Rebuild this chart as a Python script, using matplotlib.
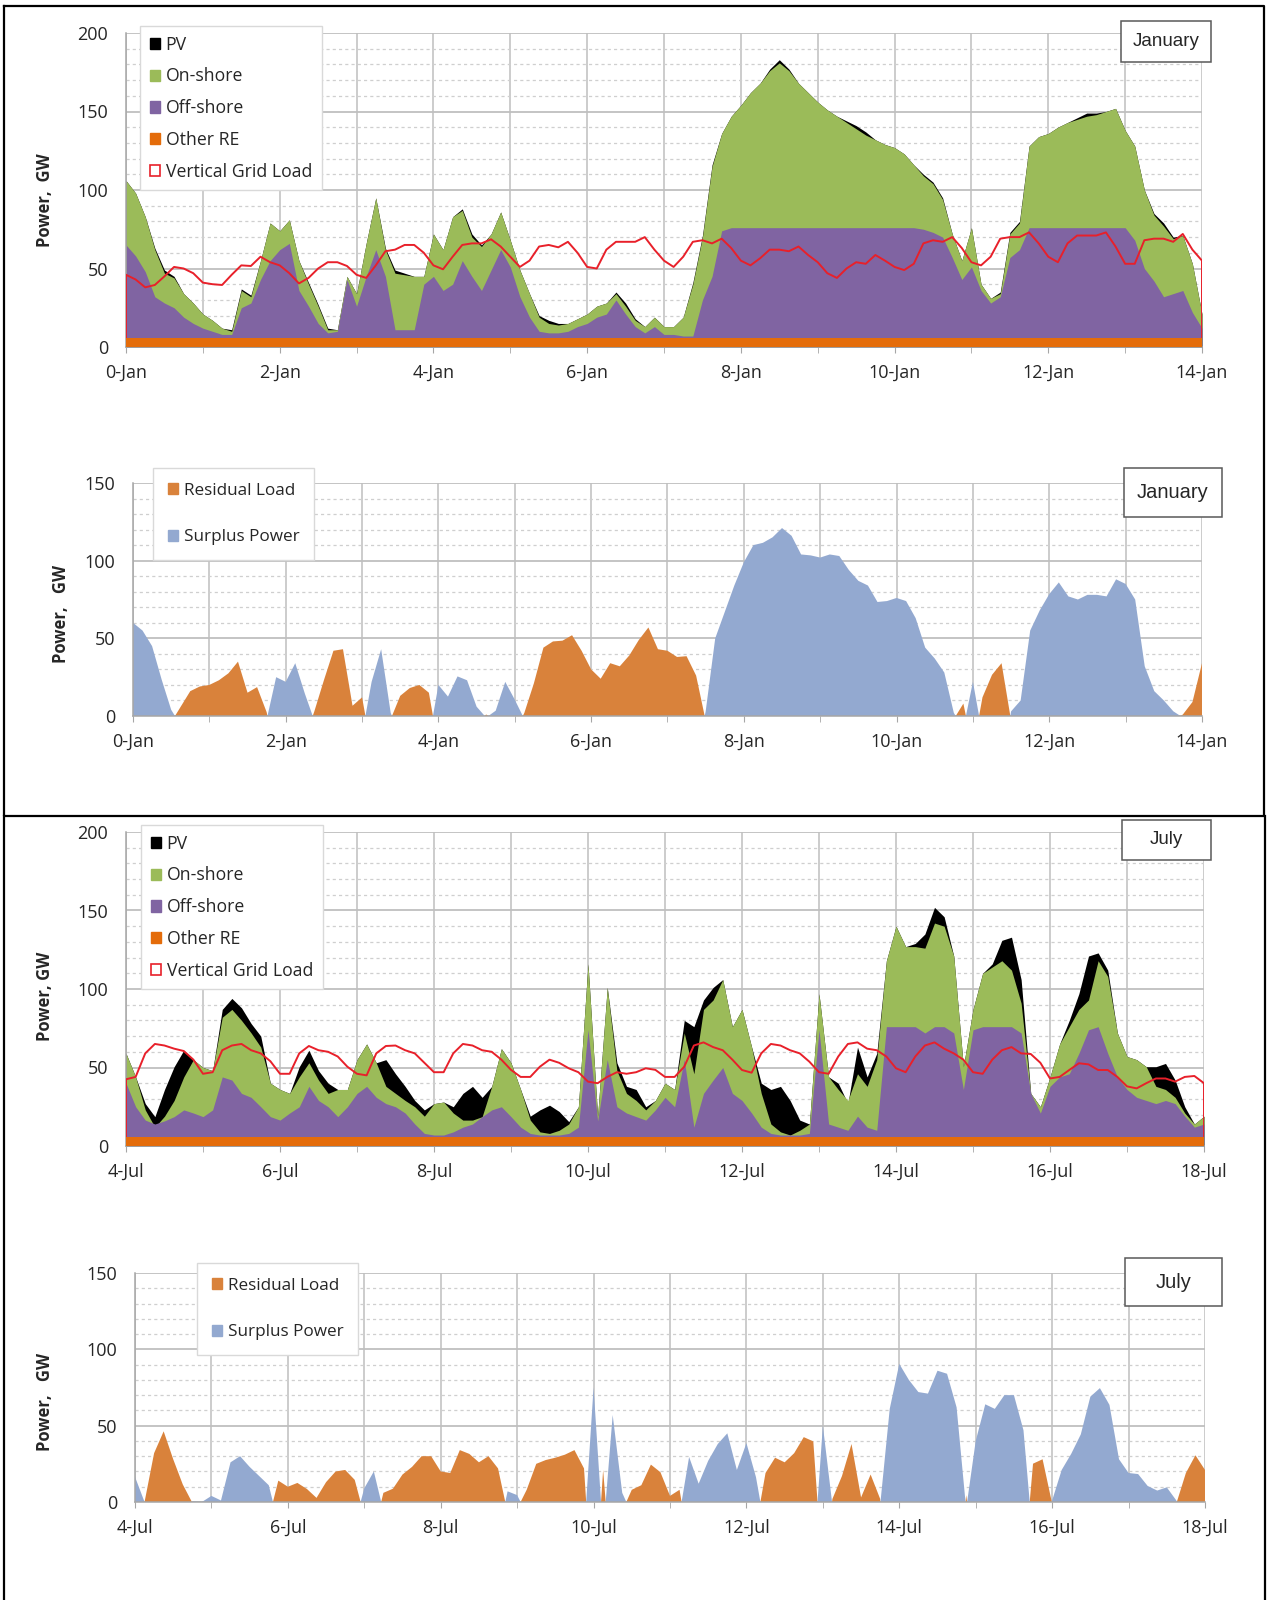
import numpy as np
import matplotlib
matplotlib.use("Agg")
import matplotlib.pyplot as plt
from matplotlib.patches import Patch, Rectangle
from matplotlib.lines import Line2D

plt.rcParams['font.family'] = ['Open Sans', 'DejaVu Sans']

# ---- data: 3-hourly samples over 14 days, values in GW ----
STEPS_PER_DAY = 8
OTHER_RE = 6.0

jan_ticklabels = ['0-Jan', '2-Jan', '4-Jan', '6-Jan', '8-Jan', '10-Jan', '12-Jan', '14-Jan']
jul_ticklabels = ['4-Jul', '6-Jul', '8-Jul', '10-Jul', '12-Jul', '14-Jul', '16-Jul', '18-Jul']

# January: upper edge of off-shore and on-shore layers of the stack
jan_offshore_top = [
    65, 58, 48, 32, 28, 25, 19, 15,
    12, 10, 8, 8, 25, 28, 43, 55,
    62, 66, 36, 26, 15, 9, 10, 43,
    26, 45, 62, 45, 11, 11, 11, 40,
    45, 36, 40, 55, 45, 36, 49, 62,
    51, 32, 19, 10, 9, 9, 10, 13,
    15, 19, 21, 30, 21, 13, 9, 13,
    8, 8, 7, 7, 30, 45, 74, 76,
    76, 76, 76, 76, 76, 76, 76, 76,
    76, 76, 76, 76, 76, 76, 76, 76,
    76, 76, 76, 75, 73, 70, 57, 43,
    51, 36, 28, 32, 57, 62, 76, 76,
    76, 76, 76, 76, 76, 76, 76, 76,
    76, 68, 50, 42, 32, 34, 36, 22,
    12]
jan_onshore_top = [
    106, 98, 83, 62, 47, 44, 34, 28,
    21, 17, 12, 10, 36, 32, 55, 79,
    74, 81, 55, 40, 26, 11, 11, 45,
    34, 66, 95, 62, 47, 46, 45, 45,
    72, 62, 83, 87, 70, 64, 72, 86,
    68, 49, 34, 19, 15, 14, 15, 18,
    21, 26, 28, 34, 26, 17, 13, 19,
    13, 13, 19, 40, 70, 115, 136, 147,
    154, 162, 168, 176, 181, 176, 168, 162,
    156, 151, 147, 143, 139, 135, 132, 129,
    127, 123, 116, 109, 104, 94, 72, 55,
    76, 40, 31, 34, 72, 79, 128, 134,
    136, 140, 143, 145, 147, 148, 150, 152,
    138, 128, 100, 84, 77, 69, 71, 53,
    21]
jan_pv = [
    0, 0, 0, 1, 2, 1, 0, 0,
    0, 0, 0, 1, 1, 1, 0, 0,
    0, 0, 0, 1, 1, 1, 0, 0,
    0, 0, 0, 1, 2, 1, 0, 0,
    0, 0, 0, 1, 2, 1, 0, 0,
    0, 0, 0, 1, 2, 1, 0, 0,
    0, 0, 0, 1, 2, 1, 0, 0,
    0, 0, 0, 1, 1, 1, 0, 0,
    0, 0, 0, 1, 2, 1, 0, 0,
    0, 0, 0, 1, 2, 2, 0, 0,
    0, 0, 0, 1, 1, 1, 0, 0,
    0, 0, 0, 1, 1, 1, 0, 0,
    0, 0, 0, 1, 2, 1, 0, 0,
    0, 0, 0, 1, 2, 1, 0, 0,
    0]
jan_load = [
    46, 43, 38, 39.5, 45, 51, 50, 47,
    41, 40, 39.5, 46, 52, 51.6, 57.5, 54,
    52, 47, 40.5, 44, 50, 54, 54, 51.6,
    46, 44, 52, 61, 62, 65, 65, 60,
    52, 49.5, 57.5, 65, 66, 66, 68.6, 64,
    57.5, 51, 55, 64, 65, 63.5, 67, 60,
    51, 50, 62, 67, 67, 67, 70, 62,
    55, 51, 57.5, 67, 68, 66, 69, 63,
    55, 52, 56.5, 62, 62, 61, 64, 58.6,
    54, 47, 44, 50, 54, 53, 58.6, 55,
    51, 49, 53, 66, 68, 67, 70, 63,
    54, 52, 57.5, 69, 70, 70, 73, 66,
    57.5, 54, 66, 71, 71, 71, 73, 64,
    53, 53, 68, 69, 69, 67, 72, 62,
    55]

# July: upper edges of off-shore, on-shore and PV layers of the stack
jul_offshore_top = [
    40, 25, 16.5, 14, 16, 18.7, 23, 21,
    18.7, 23, 44, 42, 33.5, 31, 25, 18.7,
    16.5, 21, 25, 38, 29, 25, 18.7, 25,
    33.5, 38, 31, 27, 25, 21, 14, 8,
    7, 7, 9, 12, 14, 18.7, 23, 25,
    18.7, 12, 8, 7, 7, 7, 8, 12,
    74, 16, 55, 25, 21, 18.7, 16.5, 23,
    31, 25, 55, 12, 33.5, 42, 50, 33.5,
    29, 21, 12, 8, 7, 7, 7, 8,
    74, 14, 12, 10, 19, 12, 10, 76,
    76, 76, 76, 72, 76, 76, 72, 36,
    74, 76, 76, 76, 76, 72, 33.5, 21,
    38, 44, 46, 59, 74, 76, 59, 44,
    36, 31, 29, 27, 29, 27, 19, 12,
    14]
jul_onshore_top = [
    59, 44, 23, 12, 19, 29, 44, 55,
    50, 48, 82, 87, 80, 72, 63, 40,
    36, 33.5, 44, 53, 42, 33.5, 36, 36,
    55, 65, 53, 38, 33.5, 29, 25, 19,
    27, 28, 21, 16.5, 16.5, 18.7, 38, 62,
    53, 36, 16.5, 9, 8, 10, 14, 25,
    116, 19, 101, 48, 33.5, 29, 23, 29,
    40, 36, 72, 46, 87, 93, 106, 76,
    87, 63, 33.5, 14, 9, 7, 10, 14,
    97, 44, 36, 29, 46, 38, 55, 118,
    140, 127, 127, 126, 142, 140, 121, 50.5,
    87, 110, 114, 118, 112, 91, 33.5, 25,
    44, 65, 76, 87, 93, 118, 108, 72,
    57, 55, 50.5, 38, 36, 31, 21, 14,
    19]
jul_pv_top = [
    59, 44, 27, 18.7, 36, 50.5, 61, 55,
    50, 48, 87, 94, 88, 78, 70, 40,
    36, 33.5, 50.5, 61, 48, 40, 36, 36,
    55, 65, 53, 55, 46, 38, 29, 23,
    27, 28, 25, 33.5, 38, 31, 38, 62,
    53, 36, 19, 23, 26, 22, 15.5, 25,
    116, 19, 101, 53, 38, 36, 25, 29,
    40, 36, 80, 76, 93, 101, 106, 76,
    87, 63, 40, 36, 38, 29, 16.5, 14,
    97, 44, 40, 27, 63, 44, 59, 118,
    140, 127, 129, 135, 152, 146, 121, 50.5,
    87, 110, 116, 131, 133, 106, 33.5, 25,
    44, 65, 80, 97, 121, 123, 112, 72,
    57, 55, 50.5, 50.5, 52.6, 42, 25, 14,
    19]
jul_load = [
    42.5, 44, 59, 65, 64, 62, 60.5, 55,
    46, 47, 61, 64, 65, 61, 59, 54,
    46, 46, 59, 63.7, 61, 60, 57, 50.5,
    46, 45, 59, 63.7, 64, 61, 59, 53,
    47, 47, 59, 65, 64, 61, 60, 55,
    48.5, 44, 44, 50.5, 55, 53, 49.5, 47,
    41, 40, 44, 47, 46, 47, 49.5, 48.5,
    44, 44, 50.5, 64, 66, 63, 61, 55,
    48.4, 46.7, 59, 65, 64, 61, 59, 53.7,
    47, 46, 57, 65, 66, 62, 61, 57,
    49.5, 47, 57, 64, 66, 62, 59, 55,
    47, 46, 55, 61, 63, 59, 58.6, 53,
    43, 44, 48.4, 52.7, 52, 48.4, 48.4, 44,
    38, 36.7, 40, 43, 43, 41, 44, 44.6,
    40]

# ---- styles ----
C_PV = '#000000'
C_ON = '#9BBB59'
C_OFF = '#8064A2'
C_OTHER = '#E46C0A'
C_LOAD = '#E8202A'
C_RES = '#D9823B'
C_SUR = '#93A9D0'
GRID_MAJ = '#BFBFBF'
GRID_MIN = '#CFCFCF'
TXT = '#262626'

W, H = 1268, 1600
fig = plt.figure(figsize=(W / 100, H / 100), dpi=100)


def fig_box(left, top, right, bottom):
    return [left / W, 1 - bottom / H, (right - left) / W, (bottom - top) / H]


def style_axis(ax, ymax, ticklabels):
    ax.set_xlim(0, 14)
    ax.set_ylim(0, ymax)
    ax.set_xticks(np.arange(0, 15, 2))
    ax.set_xticklabels(ticklabels)
    ax.set_xticks(np.arange(0, 15, 1), minor=True)
    ax.set_yticks(np.arange(0, ymax + 1, 50))
    ax.set_yticks(np.arange(0, ymax + 1, 10), minor=True)
    ax.grid(True, which='both', axis='x', color=GRID_MAJ, lw=1.1)
    ax.grid(True, which='major', axis='y', color=GRID_MAJ, lw=1.3)
    ax.grid(True, which='minor', axis='y', color=GRID_MIN, lw=0.9, ls=(0, (2.5, 2.5)))
    ax.set_axisbelow(True)
    for side in ['top', 'right']:
        ax.spines[side].set_visible(False)
    for side in ['left', 'bottom']:
        ax.spines[side].set_color('#A6A6A6')
        ax.spines[side].set_linewidth(1.1)
    ax.tick_params(axis='x', which='both', length=4, color='#A6A6A6', pad=8,
                   labelsize=13, labelcolor=TXT)
    ax.tick_params(axis='y', which='both', length=0, pad=13, labelsize=13,
                   labelcolor=TXT)


def draw_stack(ax, offshore_top, onshore_top, pv_top, load):
    x = np.arange(len(load)) / STEPS_PER_DAY
    ax.fill_between(x, 0, pv_top, color=C_PV, lw=0)
    ax.fill_between(x, 0, onshore_top, color=C_ON, lw=0)
    ax.fill_between(x, 0, offshore_top, color=C_OFF, lw=0)
    ax.plot(np.r_[x[0], x, x[-1]], np.r_[0, load, 0], color=C_LOAD, lw=1.4, zorder=3)
    ax.fill_between(x, 0, np.full(len(x), OTHER_RE), color=C_OTHER, lw=0, zorder=4)


def draw_residual(ax, load, pv_top):
    x = np.arange(len(load)) / STEPS_PER_DAY
    res = np.asarray(load, float) - np.asarray(pv_top, float)
    ax.fill_between(x, 0, res, where=res >= 0, interpolate=True, color=C_RES, lw=0)
    ax.fill_between(x, 0, -res, where=res <= 0, interpolate=True, color=C_SUR, lw=0)


def stack_legend(ax, left, top):
    handles = [Patch(fc=C_PV, ec=C_PV), Patch(fc=C_ON, ec=C_ON),
               Patch(fc=C_OFF, ec=C_OFF), Patch(fc=C_OTHER, ec=C_OTHER),
               Patch(fc='white', ec=C_LOAD, lw=1.2)]
    labels = ['PV', 'On-shore', 'Off-shore', 'Other RE', 'Vertical Grid Load']
    leg = ax.legend(handles, labels, loc='upper left',
                    bbox_to_anchor=(left / W, 1 - top / H), bbox_transform=fig.transFigure,
                    borderaxespad=0, fontsize=12.7, labelspacing=0.78,
                    handlelength=0.6, handleheight=0.6, handletextpad=0.3,
                    borderpad=0.55, fancybox=False, framealpha=1, edgecolor='#D9D9D9')
    leg.get_frame().set_linewidth(1.0)
    for t in leg.get_texts():
        t.set_color(TXT)


def residual_legend(ax, left, top):
    handles = [Patch(fc=C_RES, ec=C_RES), Patch(fc=C_SUR, ec=C_SUR)]
    leg = ax.legend(handles, ['Residual Load', 'Surplus Power'], loc='upper left',
                    bbox_to_anchor=(left / W, 1 - top / H), bbox_transform=fig.transFigure,
                    borderaxespad=0, fontsize=12.3, labelspacing=1.8,
                    handlelength=0.6, handleheight=0.6, handletextpad=0.35,
                    borderpad=0.85, fancybox=False, framealpha=1, edgecolor='#D9D9D9')
    leg.get_frame().set_linewidth(1.0)
    for t in leg.get_texts():
        t.set_color(TXT)


def month_box(left, top, right, bottom, text, size):
    fig.add_artist(Rectangle((left / W, 1 - bottom / H), (right - left) / W,
                             (bottom - top) / H, transform=fig.transFigure,
                             fc='white', ec='#595959', lw=1.1, zorder=5))
    fig.text((left + right) / 2 / W, 1 - (top + bottom) / 2 / H, text,
             ha='center', va='center', fontsize=size, zorder=6,
             family=['Liberation Sans', 'DejaVu Sans'], color=TXT)


def ylabel(cx, cy, text):
    fig.text(cx / W, 1 - cy / H, text, rotation=90, ha='center', va='center',
             fontsize=12, fontweight='bold', color=TXT)


# ---- January ----
ax1 = fig.add_axes(fig_box(126, 33, 1202, 347))
style_axis(ax1, 200, jan_ticklabels)
jan_pv_top = np.asarray(jan_onshore_top, float) + np.asarray(jan_pv, float)
draw_stack(ax1, jan_offshore_top, jan_onshore_top, jan_pv_top, jan_load)
stack_legend(ax1, 140, 26)
month_box(1121, 21, 1211, 62, 'January', 13.5)
ylabel(45, 200, 'Power,  GW')

ax2 = fig.add_axes(fig_box(133, 483, 1202, 716))
style_axis(ax2, 150, jan_ticklabels)
draw_residual(ax2, jan_load, jan_pv_top)
residual_legend(ax2, 153, 468)
month_box(1124, 468, 1222, 517, 'January', 14.5)
ylabel(61, 614, 'Power,   GW')

# ---- July ----
ax3 = fig.add_axes(fig_box(126, 832, 1204, 1146))
style_axis(ax3, 200, jul_ticklabels)
draw_stack(ax3, jul_offshore_top, jul_onshore_top, jul_pv_top, jul_load)
stack_legend(ax3, 141, 825)
month_box(1122, 820, 1211, 860, 'July', 13.5)
ylabel(45, 996, 'Power, GW')

ax4 = fig.add_axes(fig_box(135, 1273, 1205, 1502))
style_axis(ax4, 150, jul_ticklabels)
draw_residual(ax4, jul_load, jul_pv_top)
residual_legend(ax4, 197, 1263)
month_box(1125, 1258, 1222, 1306, 'July', 14.5)
ylabel(45, 1402, 'Power,   GW')

# ---- outer frames around the two month blocks ----
def fig_line(xs, ys, lw=1.6):
    fig.add_artist(Line2D([v / W for v in xs], [1 - v / H for v in ys],
                          transform=fig.transFigure, color='black', lw=lw))

fig_line([4, 1264, 1264, 4, 4], [6, 6, 816, 816, 6])
fig_line([4, 4], [816, 1600])
fig_line([1265, 1265], [816, 1600])

fig.savefig('out.png', dpi=100, facecolor='white')
